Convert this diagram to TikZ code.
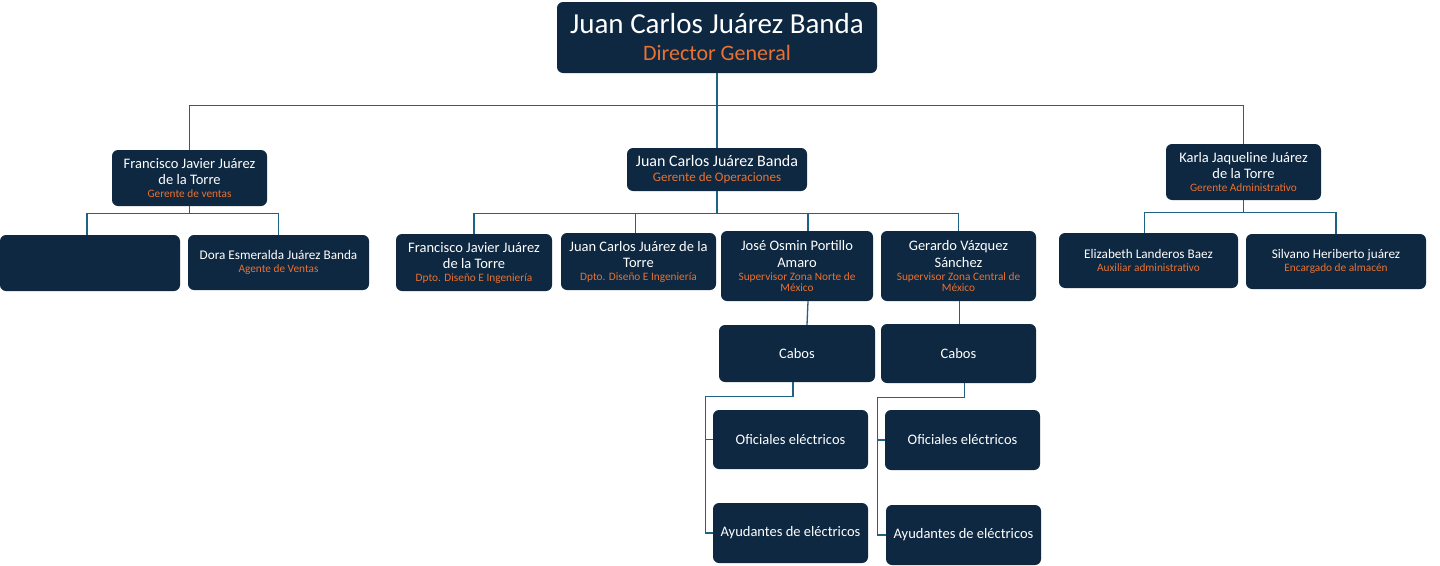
\documentclass[tikz,border=0pt]{standalone}
\usepackage{fontspec}
\setmainfont{Carlito}
\usetikzlibrary{calc}

\definecolor{azul}{HTML}{0E2841}
\definecolor{naranja}{HTML}{E97132}
\definecolor{linea}{HTML}{1F6384}

\newcommand{\cargo}[1]{{\color{naranja}\fontsize{11.3}{12}\selectfont #1}}

\tikzset{
  caja/.style 2 args={fill=azul, rounded corners=6pt, text=white, align=center,
    inner sep=2pt, minimum width=#1pt, minimum height=#2pt,
    font=\fontsize{14.5}{16}\selectfont},
  nombre/.style={font=\fontsize{13.2}{15}\selectfont},
  conector/.style={draw=linea, line width=1.3pt}
}

\begin{document}
\begin{tikzpicture}[x=1pt, y=-1pt]
    \useasboundingbox (0,0) rectangle (1440,565);

    % Dirección general
    \node[caja={320}{71}, font=\fontsize{29}{30}\selectfont] (dir) at (717,37.5)
        {Juan Carlos Juárez Banda\\[-3pt]{\color{naranja}\fontsize{22}{23}\selectfont Director General}};

    % Gerencias
    \node[caja={155}{56}] (ventas) at (189.5,178)
        {Francisco Javier Juárez\\de la Torre\\[-3pt]\cargo{Gerente de ventas}};
    \node[caja={180}{43}, font=\fontsize{16}{17}\selectfont] (operaciones) at (717,169.5)
        {Juan Carlos Juárez Banda\\[-2pt]{\color{naranja}\fontsize{13}{14}\selectfont Gerente de Operaciones}};
    \node[caja={155}{56}] (admin) at (1243.5,172)
        {Karla Jaqueline Juárez\\de la Torre\\[-3pt]\cargo{Gerente Administrativo}};

    % Ventas
    \node[caja={180}{56}] (vacio) at (90,263) {};
    \node[caja={181}{55}, nombre] (dora) at (278.5,262.5)
        {Dora Esmeralda Juárez Banda\\[-2pt]\cargo{Agente de Ventas}};

    % Operaciones
    \node[caja={156}{57}] (diseno1) at (474,262.5)
        {Francisco Javier Juárez\\de la Torre\\[-3pt]\cargo{Dpto. Diseño E Ingeniería}};
    \node[caja={155}{57}] (diseno2) at (638.5,261.5)
        {Juan Carlos Juárez de la\\Torre\\[-3pt]\cargo{Dpto. Diseño E Ingeniería}};
    \node[caja={152}{70}] (norte) at (797,266)
        {José Osmin Portillo\\Amaro\\[-3pt]\cargo{Supervisor Zona Norte de}\\[-5pt]\cargo{México}};
    \node[caja={155}{70}] (central) at (958.5,266)
        {Gerardo Vázquez\\Sánchez\\[-3pt]\cargo{Supervisor Zona Central de}\\[-5pt]\cargo{México}};

    % Administración
    \node[caja={179}{55}, nombre] (auxiliar) at (1148.5,260.5)
        {Elizabeth Landeros Baez\\[-2pt]\cargo{Auxiliar administrativo}};
    \node[caja={180}{55}, nombre] (almacen) at (1336,261.5)
        {Silvano Heriberto juárez\\[-2pt]\cargo{Encargado de almacén}};

    % Cuadrillas
    \node[caja={156}{57}] (cabos1) at (797,353.5) {Cabos};
    \node[caja={155}{59}] (cabos2) at (958.5,353.5) {Cabos};
    \node[caja={155}{59}] (oficiales1) at (790.5,439.5) {Oficiales eléctricos};
    \node[caja={155}{60}] (ayudantes1) at (790.5,533) {Ayudantes de eléctricos};
    \node[caja={155}{60}] (oficiales2) at (962.5,440) {Oficiales eléctricos};
    \node[caja={155}{60}] (ayudantes2) at (963.5,535) {Ayudantes de eléctricos};

    % Conectores del director
    \draw[conector] (dir.south) -- ++(0,32) coordinate (bus);
    \draw[conector] (bus) -| (ventas.north);
    \draw[conector] (bus) -- (operaciones.north);
    \draw[conector] (bus) -| (admin.north);

    % Conectores de ventas
    \draw[conector] (ventas.south) -- ++(0,7) coordinate (busv);
    \draw[conector] (busv) -| ([xshift=-3pt]vacio.north);
    \draw[conector] (busv) -| (dora.north);

    % Conectores de operaciones
    \draw[conector] (operaciones.south) -- ++(0,22) coordinate (buso);
    \draw[conector] (buso) -| (diseno1.north);
    \draw[conector] (buso) -| ([xshift=-3pt]diseno2.north);
    \draw[conector] (buso) -| ([xshift=11pt]norte.north);
    \draw[conector] (buso) -| (central.north);

    % Conectores de administración
    \draw[conector] (admin.south) -- ++(0,12) coordinate (busa);
    \draw[conector] (busa) -| ([xshift=-4pt]auxiliar.north);
    \draw[conector] (busa) -| (almacen.north);

    % Supervisores a cabos
    \draw[conector] ([xshift=11pt]norte.south) -- ([xshift=10pt]cabos1.north);
    \draw[conector] ([xshift=1pt]central.south) -- ([xshift=1pt]cabos2.north);

    % Cabos a oficiales y ayudantes
    \draw[conector] ([xshift=-4pt]cabos1.south) -- ++(0,14) -| ([xshift=-7pt]oficiales1.west)
        coordinate (ramal1) |- (ayudantes1.west);
    \draw[conector] (ramal1) -- (oficiales1.west);
    \draw[conector] ([xshift=6pt]cabos2.south) -- ++(0,14) -| ([xshift=-7pt]oficiales2.west)
        coordinate (ramal2) |- (ayudantes2.west);
    \draw[conector] (ramal2) -- (oficiales2.west);
\end{tikzpicture}
\end{document}
